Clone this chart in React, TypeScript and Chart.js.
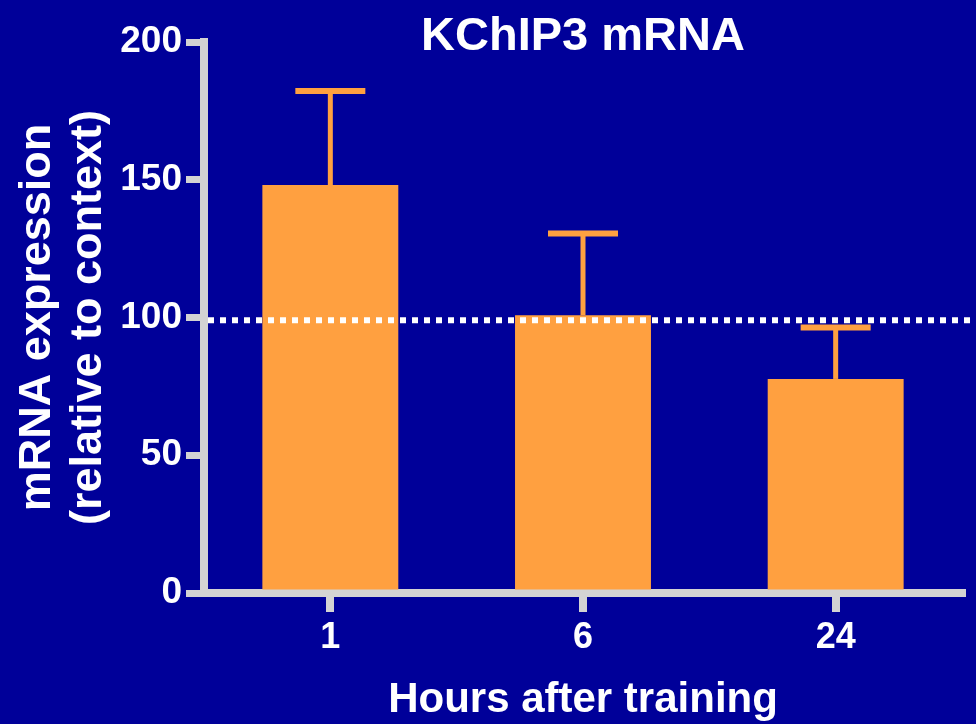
import React, { useEffect, useRef } from "react";
import { Chart, registerables } from "chart.js";

Chart.register(...registerables);

const titleText = "KChIP3 mRNA";
const categories = ["1", "6", "24"];
const meanValues = [148.1, 100.8, 77.7];
const semValues = [34.1, 29.7, 18.7];
const referenceLevel = 99;
const yTicks = [0, 50, 100, 150, 200];
const xAxisTitle = "Hours after training";
const yAxisTitle = ["mRNA expression", "(relative to context)"];

const BG = "#000099";
const BAR = "#FFA040";
const AXIS = "#D3D3D3";
const FONT = "'Liberation Sans', Arial, sans-serif";

export default function App() {
  const ref = useRef<HTMLCanvasElement | null>(null);

  useEffect(() => {
    if (!ref.current) return;
    const overlay = {
      id: "overlay",
      afterDatasetsDraw(chart: any) {
        const ctx = chart.ctx;
        const y = chart.scales.y;
        const meta = chart.getDatasetMeta(0);
        ctx.save();
        ctx.strokeStyle = BAR;
        meta.data.forEach((el: any, i: number) => {
          const top = y.getPixelForValue(meanValues[i] + semValues[i]);
          ctx.lineWidth = 5;
          ctx.beginPath();
          ctx.moveTo(el.x, el.y);
          ctx.lineTo(el.x, top);
          ctx.stroke();
          ctx.lineWidth = 6;
          ctx.beginPath();
          ctx.moveTo(el.x - 35, top);
          ctx.lineTo(el.x + 35, top);
          ctx.stroke();
        });
        const ry = y.getPixelForValue(referenceLevel);
        ctx.strokeStyle = "#FFFFFF";
        ctx.lineWidth = 6;
        ctx.setLineDash([6, 6]);
        ctx.beginPath();
        ctx.moveTo(chart.chartArea.left + 4, ry);
        ctx.lineTo(chart.width, ry);
        ctx.stroke();
        ctx.setLineDash([]);
        ctx.fillStyle = "#FFFFFF";
        ctx.font = `bold 47px ${FONT}`;
        ctx.textAlign = "center";
        ctx.textBaseline = "alphabetic";
        ctx.fillText(titleText, (chart.chartArea.left + chart.chartArea.right) / 2, 50);
        ctx.restore();
      },
    };

    const chart = new Chart(ref.current, {
      type: "bar",
      data: {
        labels: categories,
        datasets: [
          {
            data: meanValues,
            backgroundColor: BAR,
            borderWidth: 0,
            categoryPercentage: 1,
            barPercentage: 0.538,
          },
        ],
      },
      options: {
        responsive: false,
        animation: false,
        layout: { padding: { top: 42, right: 14, bottom: 0, left: 0 } },
        plugins: {
          legend: { display: false },
          tooltip: { enabled: false },
          title: { display: false },
        },
        scales: {
          x: {
            afterFit: (axis: any) => {
              axis.height = 131;
            },
            grid: {
              offset: false,
              drawOnChartArea: false,
              drawTicks: true,
              tickLength: 19,
              color: AXIS,
              lineWidth: 8,
            },
            border: { display: true, color: AXIS, width: 8 },
            ticks: {
              color: "#FFFFFF",
              padding: 4,
              font: { family: FONT, size: 36, weight: "bold" },
            },
            title: {
              display: true,
              text: xAxisTitle,
              color: "#FFFFFF",
              font: { family: FONT, size: 42, weight: "bold", lineHeight: 1.0 },
              padding: { top: 0, bottom: 3 },
            },
          },
          y: {
            min: 0,
            max: 200,
            afterFit: (axis: any) => {
              axis.width = 204;
            },
            afterBuildTicks: (axis: any) => {
              axis.ticks = yTicks.map((v) => ({ value: v }));
            },
            grid: {
              drawOnChartArea: false,
              drawTicks: true,
              tickLength: 18,
              color: AXIS,
              lineWidth: 7,
            },
            border: { display: true, color: AXIS, width: 8 },
            ticks: {
              color: "#FFFFFF",
              padding: 4,
              font: { family: FONT, size: 37, weight: "bold" },
            },
            title: {
              display: true,
              text: yAxisTitle,
              color: "#FFFFFF",
              font: { family: FONT, size: 45, weight: "bold", lineHeight: 1.14 },
              padding: { top: 12, bottom: 0 },
            },
          },
        },
      },
      plugins: [overlay],
    });
    return () => chart.destroy();
  }, []);

  return (
    <div
      style={{
        position: "fixed",
        left: 0,
        top: 0,
        width: 976,
        height: 724,
        background: BG,
        overflow: "hidden",
      }}
    >
      <canvas ref={ref} width={976} height={724} style={{ display: "block" }} />
    </div>
  );
}
